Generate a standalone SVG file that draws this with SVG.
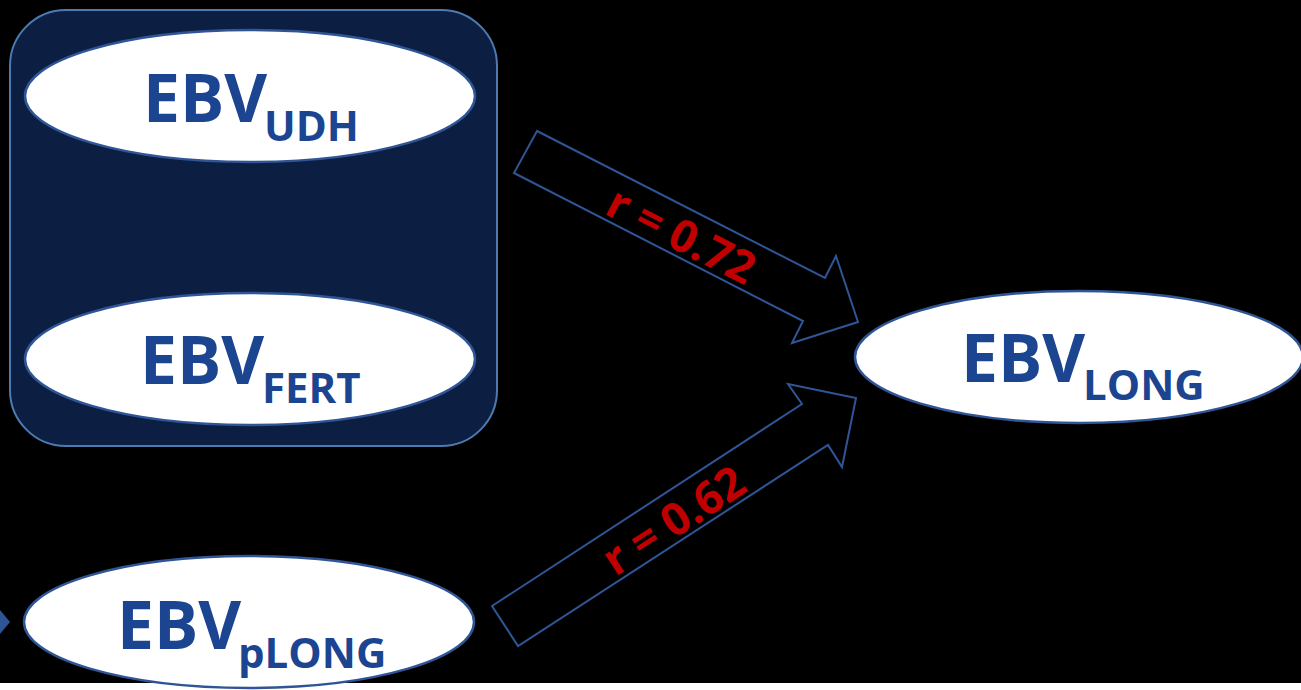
<svg xmlns="http://www.w3.org/2000/svg" width="1301" height="690" viewBox="0 0 1301 690">
<style>
.node{fill:#ffffff;stroke:#2f5597;stroke-width:2.5}
.lbl{font-family:"Open Sans","Liberation Sans",sans-serif;font-weight:bold;fill:#1b4591}
.big{font-size:66px}
.sub{font-size:42px}
.arrow{fill:none;stroke:#2f5597;stroke-width:2}
.r{font-family:"Open Sans","Liberation Sans",sans-serif;font-weight:bold;font-size:45px;fill:#c00000}
</style>
<rect x="0" y="0" width="1301" height="690" fill="#000000"/>
<rect x="0" y="683" width="1301" height="7" fill="#ffffff"/>
<g id="group-box">
<rect x="10" y="10" width="487" height="436" rx="56" ry="56" fill="#0c1f43" stroke="#4d7bb0" stroke-width="2"/>
</g>
<g id="node-udh">
<ellipse class="node" cx="250" cy="96" rx="225" ry="66"/>
<text class="lbl" x="143" y="122"><tspan class="big">EBV</tspan><tspan class="sub" x="264" y="141">UDH</tspan></text>
</g>
<g id="node-fert">
<ellipse class="node" cx="250" cy="359" rx="225" ry="66"/>
<text class="lbl" x="140" y="384"><tspan class="big">EBV</tspan><tspan class="sub" x="262" y="403">FERT</tspan></text>
</g>
<g id="node-plong">
<ellipse class="node" cx="249" cy="622" rx="225" ry="66"/>
<text class="lbl" x="117" y="649"><tspan class="big">EBV</tspan><tspan class="sub" x="238" y="668">pLONG</tspan></text>
</g>
<g id="node-long">
<ellipse class="node" cx="1079" cy="357" rx="224" ry="66"/>
<text class="lbl" x="961" y="382"><tspan class="big">EBV</tspan><tspan class="sub" x="1083" y="400">LONG</tspan></text>
</g>
<g id="connectors">
<polygon points="0,610 10,622 0,634" fill="#2f5597"/>
<polygon class="arrow" points="537,131 825,278 836,256 858,322 792,343 803,321 514,173"/>
<text class="r" transform="translate(681,236) rotate(27)" text-anchor="middle" dy="15">r = 0.72</text>
<polygon class="arrow" points="492,606 802,404 788,384 856,398 842,467 828,445 518,646"/>
<text class="r" transform="translate(674,521) rotate(-33)" text-anchor="middle" dy="15">r = 0.62</text>
</g>
</svg>
